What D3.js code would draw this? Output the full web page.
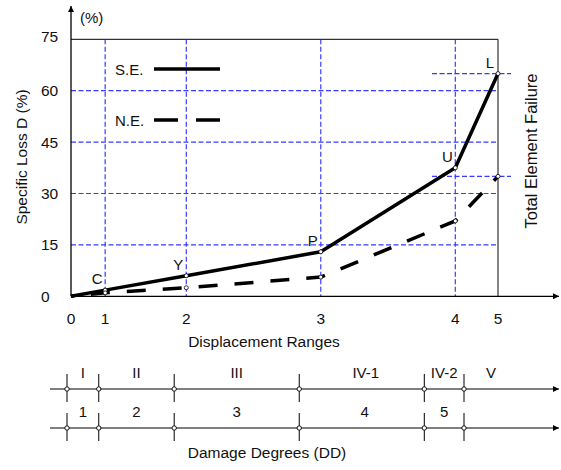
<!DOCTYPE html>
<html>
<head>
<meta charset="utf-8">
<script src="https://d3js.org/d3.v7.min.js"></script>
<style>
    body { margin: 0; background: #fff; }
    text { font-family: "Liberation Sans", Arial, sans-serif; fill: #111; }
</style>
</head>
<body>
<div id="chart"></div>
<script>
// displacement range boundaries (relative position along the axis) and their tick labels
const rangePos = [0, 0.08, 0.27, 0.585, 0.90, 1.0]
const rangeTicks = ['0', '1', '2', '3', '4', '5']
const yTicks = [0, 15, 30, 45, 60, 75]

// specific loss D (%)
const seValues = [0, 1.8, 6, 13, 37.5, 65]
const neValues = [0, 1, 2.5, 5.6, 22, 35]
const pointLabels = ['', 'C', 'Y', 'P', 'U', 'L']

// damage degree bands
const ddRoman = ['I', 'II', 'III', 'IV-1', 'IV-2', 'V']
const ddNumbers = ['1', '2', '3', '4', '5']

const gridBlue = '#3a3aff'

function DrawChart() {
    var W = 561, H = 470;
    var svg = d3.select('#chart').append('svg')
        .attr('width', W).attr('height', H);

    var defs = svg.append('defs');
    defs.append('marker').attr('id', 'arrow')
        .attr('viewBox', '0 0 10 10').attr('refX', 10).attr('refY', 5)
        .attr('markerWidth', 10).attr('markerHeight', 6)
        .attr('markerUnits', 'userSpaceOnUse')
        .attr('orient', 'auto')
        .append('path').attr('d', 'M0,0L10,5L0,10z').attr('fill', '#000');

    var xScale = d3.scaleLinear().domain([0, 1]).range([71, 498]);
    var yScale = d3.scaleLinear().domain([0, 75]).range([296.3, 39.3]);

    // grid
    svg.selectAll('.vgrid').data(rangePos.slice(1, 5)).enter().append('line')
        .attr('x1', d => xScale(d)).attr('x2', d => xScale(d))
        .attr('y1', yScale(75)).attr('y2', yScale(0))
        .attr('stroke', gridBlue).attr('stroke-width', 1.2).attr('stroke-dasharray', '5,2.5');
    svg.selectAll('.hgrid').data([15, 30, 45, 60]).enter().append('line')
        .attr('x1', xScale(0)).attr('x2', xScale(1))
        .attr('y1', d => yScale(d)).attr('y2', d => yScale(d))
        .attr('stroke', gridBlue).attr('stroke-width', 1.2).attr('stroke-dasharray', '5,2.5');
    // short level marks at the end points
    svg.selectAll('.endgrid').data([seValues[5], neValues[5]]).enter().append('line')
        .attr('x1', xScale(1) - 66).attr('x2', xScale(1) + 13)
        .attr('y1', d => yScale(d)).attr('y2', d => yScale(d))
        .attr('stroke', gridBlue).attr('stroke-width', 1.2).attr('stroke-dasharray', '5,2.5');

    // frame
    svg.append('line').attr('x1', xScale(0)).attr('x2', xScale(1))
        .attr('y1', yScale(75)).attr('y2', yScale(75))
        .attr('stroke', '#333').attr('stroke-width', 1.2);
    svg.append('line').attr('x1', xScale(1)).attr('x2', xScale(1))
        .attr('y1', yScale(75)).attr('y2', yScale(0))
        .attr('stroke', '#333').attr('stroke-width', 1.2);

    // axes with arrows
    svg.append('line').attr('x1', xScale(0)).attr('x2', 559)
        .attr('y1', yScale(0)).attr('y2', yScale(0))
        .attr('stroke', '#000').attr('stroke-width', 1.3).attr('marker-end', 'url(#arrow)');
    svg.append('line').attr('x1', xScale(0)).attr('x2', xScale(0))
        .attr('y1', yScale(0)).attr('y2', 6)
        .attr('stroke', '#000').attr('stroke-width', 1.3).attr('marker-end', 'url(#arrow)');

    svg.append('text').text('(%)').attr('x', 80).attr('y', 23).attr('font-size', '15px');

    svg.selectAll('.ytick').data(yTicks).enter().append('text')
        .text(d => d)
        .attr('x', 41).attr('y', d => yScale(d) + 5.5 - (d == 75 ? 3 : 0))
        .attr('font-size', '15.5px');

    svg.selectAll('.xtick').data(rangePos).enter().append('text')
        .text((d, i) => rangeTicks[i])
        .attr('x', d => xScale(d)).attr('y', 324)
        .attr('text-anchor', 'middle').attr('font-size', '15.5px');

    svg.append('text').text('Displacement Ranges')
        .attr('x', 264).attr('y', 347).attr('text-anchor', 'middle').attr('font-size', '15.5px');

    svg.append('text').text('Specific Loss D (%)')
        .attr('transform', 'translate(27,157)rotate(-90)')
        .attr('text-anchor', 'middle').attr('font-size', '15.5px');

    svg.append('text').text('Total Element Failure')
        .attr('transform', 'translate(537,151)rotate(-90)')
        .attr('text-anchor', 'middle').attr('font-size', '16.5px');

    // series
    var line = d3.line().x((d, i) => xScale(rangePos[i])).y(d => yScale(d));
    svg.append('path').datum(neValues).attr('d', line)
        .attr('fill', 'none').attr('stroke', '#000').attr('stroke-width', 3.5)
        .attr('stroke-dasharray', '19,17').attr('stroke-dashoffset', -20);
    svg.append('path').datum(seValues).attr('d', line)
        .attr('fill', 'none').attr('stroke', '#000').attr('stroke-width', 3.5)
        .attr('stroke-linejoin', 'round');

    var pts = [];
    rangePos.forEach(function (p, i) {
        if (i == 0) return;
        pts.push({ x: p, y: seValues[i] });
        pts.push({ x: p, y: neValues[i] });
    });
    svg.selectAll('.pt').data(pts).enter().append('circle')
        .attr('cx', d => xScale(d.x)).attr('cy', d => yScale(d.y)).attr('r', 2)
        .attr('fill', '#fff').attr('stroke', '#000').attr('stroke-width', 0.8);

    svg.selectAll('.plabel').data(seValues).enter().append('text')
        .text((d, i) => pointLabels[i])
        .attr('x', (d, i) => xScale(rangePos[i]) - 8)
        .attr('y', d => yScale(d) - 6)
        .attr('text-anchor', 'middle').attr('font-size', '15px');

    // legend
    svg.append('text').text('S.E.').attr('x', 115).attr('y', 75).attr('font-size', '15px');
    svg.append('line').attr('x1', 154).attr('x2', 220).attr('y1', 69).attr('y2', 69)
        .attr('stroke', '#000').attr('stroke-width', 3.5);
    svg.append('text').text('N.E.').attr('x', 115).attr('y', 125.5).attr('font-size', '15px');
    svg.append('line').attr('x1', 154).attr('x2', 220).attr('y1', 120).attr('y2', 120)
        .attr('stroke', '#000').attr('stroke-width', 3.5).attr('stroke-dasharray', '24,18');

    // damage degree scales
    var bScale = d3.scaleLinear().domain([0, 1]).range([67, 464]);
    [389, 428].forEach(function (yy, row) {
        svg.append('line').attr('x1', 50).attr('x2', 559).attr('y1', yy).attr('y2', yy)
            .attr('stroke', '#000').attr('stroke-width', 1.2).attr('marker-end', 'url(#arrow)');
        svg.selectAll('.btick' + row).data(rangePos).enter().append('line')
            .attr('x1', d => bScale(d)).attr('x2', d => bScale(d))
            .attr('y1', yy - 15).attr('y2', yy + 13)
            .attr('stroke', '#000').attr('stroke-width', 1);
        svg.selectAll('.bpt' + row).data(rangePos).enter().append('circle')
            .attr('cx', d => bScale(d)).attr('cy', yy).attr('r', 2.2)
            .attr('fill', '#fff').attr('stroke', '#000').attr('stroke-width', 0.9);
    });

    svg.selectAll('.roman').data(ddRoman).enter().append('text')
        .text(d => d)
        .attr('x', function (d, i) {
            if (i < 5) return (bScale(rangePos[i]) + bScale(rangePos[i + 1])) / 2 + (i == 3 ? 4 : 0);
            return bScale(rangePos[5]) + 27;
        })
        .attr('y', 378).attr('text-anchor', 'middle').attr('font-size', '15px');

    svg.selectAll('.ddnum').data(ddNumbers).enter().append('text')
        .text(d => d)
        .attr('x', (d, i) => (bScale(rangePos[i]) + bScale(rangePos[i + 1])) / 2 + (i == 3 ? 3 : 0))
        .attr('y', 417).attr('text-anchor', 'middle').attr('font-size', '15px');

    svg.append('text').text('Damage Degrees (DD)')
        .attr('x', 267).attr('y', 458).attr('text-anchor', 'middle').attr('font-size', '15.5px');
}

DrawChart();
</script>
</body>
</html>
